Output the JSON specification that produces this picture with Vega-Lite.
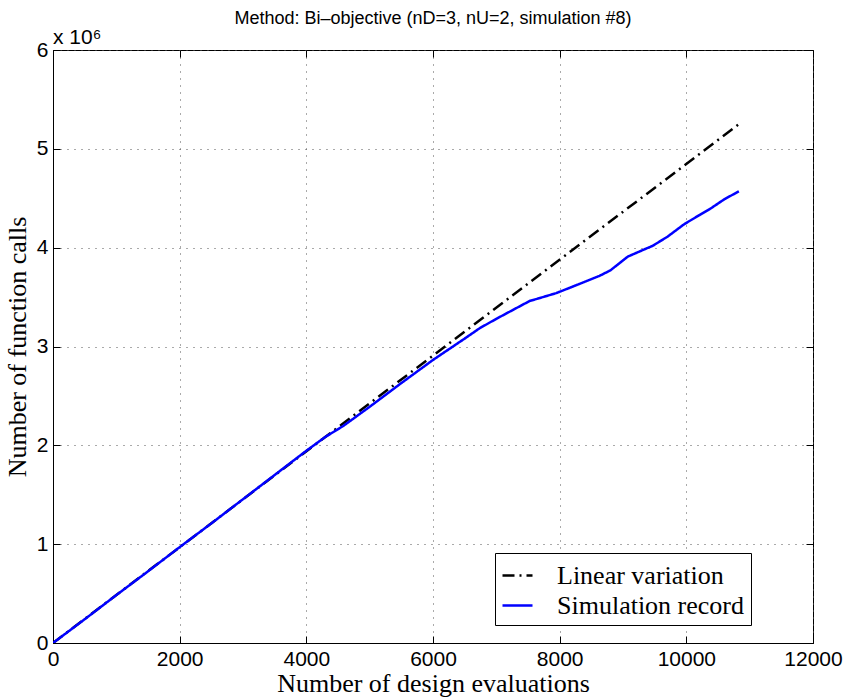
{
  "$schema": "https://vega.github.io/schema/vega-lite/v6.json",
  "width": 760,
  "height": 593,
  "autosize": {"type": "none"},
  "padding": {"left": 53, "top": 50, "right": 33, "bottom": 57},
  "background": "white",
  "title": {"text": "Method: Bi–objective (nD=3, nU=2, simulation #8)", "font": "Liberation Sans", "fontSize": 18, "fontWeight": "normal", "color": "black", "anchor": "middle", "offset": -1},
  "config": {
    "view": {"stroke": "black", "strokeWidth": 1},
    "axis": {"domainColor": "black", "tickColor": "black", "labelColor": "black", "titleColor": "black", "labelFont": "Liberation Sans", "labelFontSize": 21, "titleFont": "Liberation Serif", "titleFontSize": 26, "titleFontWeight": "normal", "gridColor": "#555", "gridDash": [1, 6], "gridWidth": 1, "gridOpacity": 1, "labelFlush": false, "labelOverlap": false, "labelBound": false},
    "legend": {"orient": "none", "legendX": 442, "legendY": 503, "labelFont": "Liberation Serif", "labelFontSize": 26, "labelColor": "black", "symbolType": "stroke", "symbolSize": 900, "symbolStrokeWidth": 2.5, "strokeColor": "black", "fillColor": "white", "padding": 6, "rowPadding": 0, "labelOffset": 23, "labelLimit": 400}
  },
  "datasets": {
    "curves": [
      {"series": "Linear variation", "evaluations": 0, "calls": 0},
      {"series": "Linear variation", "evaluations": 10830, "calls": 5250000},
      {"series": "Simulation record", "evaluations": 0, "calls": 0},
      {"series": "Simulation record", "evaluations": 500, "calls": 240000},
      {"series": "Simulation record", "evaluations": 1000, "calls": 485000},
      {"series": "Simulation record", "evaluations": 1500, "calls": 725000},
      {"series": "Simulation record", "evaluations": 2000, "calls": 970000},
      {"series": "Simulation record", "evaluations": 2500, "calls": 1210000},
      {"series": "Simulation record", "evaluations": 3000, "calls": 1455000},
      {"series": "Simulation record", "evaluations": 3500, "calls": 1700000},
      {"series": "Simulation record", "evaluations": 4000, "calls": 1945000},
      {"series": "Simulation record", "evaluations": 4300, "calls": 2085000},
      {"series": "Simulation record", "evaluations": 4583, "calls": 2196000},
      {"series": "Simulation record", "evaluations": 5000, "calls": 2390000},
      {"series": "Simulation record", "evaluations": 5500, "calls": 2630000},
      {"series": "Simulation record", "evaluations": 6000, "calls": 2864000},
      {"series": "Simulation record", "evaluations": 6500, "calls": 3080000},
      {"series": "Simulation record", "evaluations": 6737, "calls": 3185000},
      {"series": "Simulation record", "evaluations": 7000, "calls": 3280000},
      {"series": "Simulation record", "evaluations": 7525, "calls": 3460000},
      {"series": "Simulation record", "evaluations": 7946, "calls": 3540000},
      {"series": "Simulation record", "evaluations": 8300, "calls": 3630000},
      {"series": "Simulation record", "evaluations": 8630, "calls": 3715000},
      {"series": "Simulation record", "evaluations": 8800, "calls": 3770000},
      {"series": "Simulation record", "evaluations": 9077, "calls": 3910000},
      {"series": "Simulation record", "evaluations": 9472, "calls": 4020000},
      {"series": "Simulation record", "evaluations": 9700, "calls": 4110000},
      {"series": "Simulation record", "evaluations": 9972, "calls": 4240000},
      {"series": "Simulation record", "evaluations": 10208, "calls": 4330000},
      {"series": "Simulation record", "evaluations": 10393, "calls": 4400000},
      {"series": "Simulation record", "evaluations": 10600, "calls": 4490000},
      {"series": "Simulation record", "evaluations": 10830, "calls": 4570000}
    ],
    "note": [{"evaluations": 0, "calls": 6000000, "label": "x 10⁶"}]
  },
  "layer": [
    {
      "data": {"name": "curves"},
      "mark": {"type": "line", "strokeWidth": 2.5, "clip": true},
      "encoding": {
        "x": {"field": "evaluations", "type": "quantitative", "scale": {"domain": [0, 12000], "nice": false, "zero": false}, "axis": {"title": "Number of design evaluations", "values": [0, 2000, 4000, 6000, 8000, 10000, 12000], "format": "d", "tickSize": -7, "labelPadding": 12, "titlePadding": 1, "grid": true}},
        "y": {"field": "calls", "type": "quantitative", "scale": {"domain": [0, 6000000], "nice": false}, "axis": {"title": "Number of function calls", "values": [0, 1000000, 2000000, 3000000, 4000000, 5000000, 6000000], "labelExpr": "format(datum.value / 1000000, 'd')", "tickSize": -7, "labelPadding": 12, "titlePadding": 6, "grid": true}},
        "color": {"field": "series", "type": "nominal", "scale": {"domain": ["Linear variation", "Simulation record"], "range": ["black", "#0000ff"]}, "legend": {"title": null}},
        "strokeDash": {"field": "series", "type": "nominal", "scale": {"domain": ["Linear variation", "Simulation record"], "range": [[12, 5, 2, 5], [1, 0]]}, "legend": {"title": null}}
      }
    },
    {
      "data": {"name": "curves"},
      "mark": {"type": "point", "opacity": 0},
      "encoding": {
        "x": {"field": "evaluations", "type": "quantitative", "axis": {"orient": "top", "title": null, "values": [0, 2000, 4000, 6000, 8000, 10000, 12000], "labels": false, "domain": false, "grid": false, "tickSize": -7}},
        "y": {"field": "calls", "type": "quantitative", "axis": {"orient": "right", "title": null, "values": [0, 1000000, 2000000, 3000000, 4000000, 5000000, 6000000], "labels": false, "domain": false, "grid": false, "tickSize": -7}}
      }
    },
    {
      "data": {"name": "note"},
      "mark": {"type": "text", "align": "left", "baseline": "bottom", "dy": -2, "font": "Liberation Sans", "fontSize": 21, "color": "black"},
      "encoding": {
        "x": {"field": "evaluations", "type": "quantitative", "axis": null},
        "y": {"field": "calls", "type": "quantitative", "axis": null},
        "text": {"field": "label"}
      }
    }
  ],
  "resolve": {"axis": {"x": "independent", "y": "independent"}}
}
